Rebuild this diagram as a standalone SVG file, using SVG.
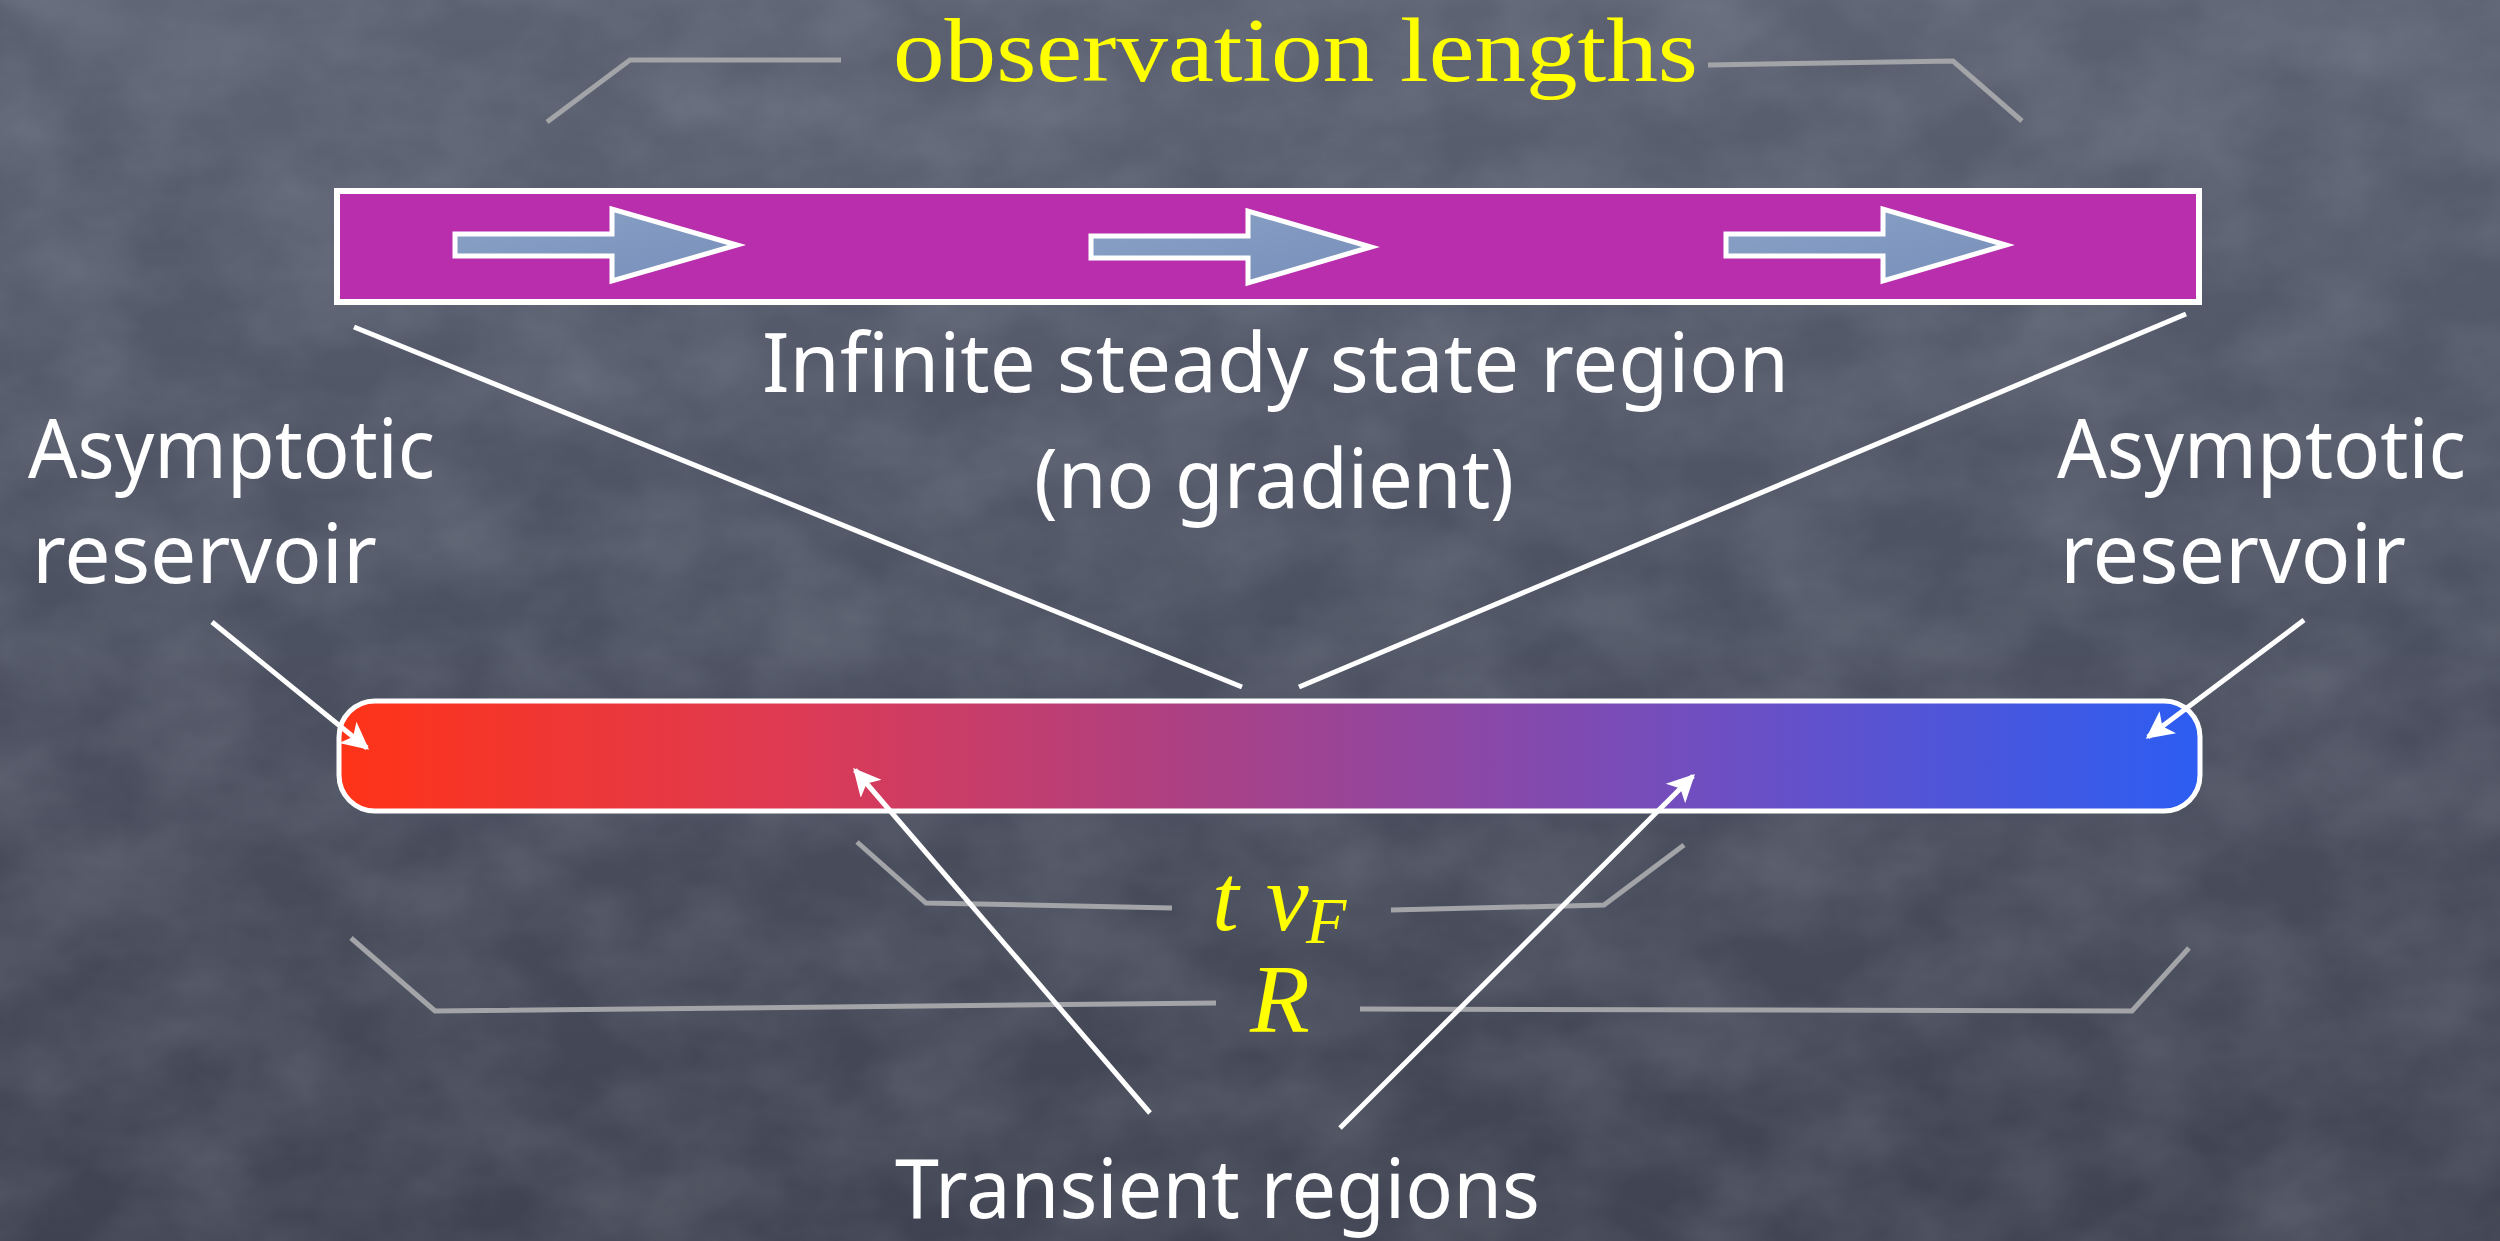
<svg xmlns="http://www.w3.org/2000/svg" width="2500" height="1241" viewBox="0 0 2500 1241">
  <defs>
    <style>
      .label { font-family: "Noto Sans", "DejaVu Sans", sans-serif; fill: #ffffff; }
      .math { font-family: "Liberation Serif", "DejaVu Serif", serif; fill: #ffff00; }
      .bracket { fill: none; stroke: #a3a4a8; stroke-width: 5; stroke-linejoin: miter; }
      .conn { stroke: #ffffff; stroke-width: 5; fill: none; }
      .flow { fill: url(#arrowFill); stroke: #ffffff; stroke-width: 5; }
    </style>
    <linearGradient id="bg" x1="0" y1="0" x2="0" y2="1">
      <stop offset="0" stop-color="#5b6171"/>
      <stop offset="0.5" stop-color="#4c5161"/>
      <stop offset="1" stop-color="#3f4351"/>
    </linearGradient>
    <linearGradient id="bar" x1="339" y1="0" x2="2200" y2="0" gradientUnits="userSpaceOnUse">
      <stop offset="0" stop-color="#ff3317"/>
      <stop offset="0.25" stop-color="#dc3a55"/>
      <stop offset="0.5" stop-color="#a2428e"/>
      <stop offset="0.75" stop-color="#6c4fc4"/>
      <stop offset="1" stop-color="#2c5df2"/>
    </linearGradient>
    <linearGradient id="arrowFill" x1="0" y1="0" x2="1" y2="1">
      <stop offset="0" stop-color="#8aa2c6"/>
      <stop offset="1" stop-color="#7890ba"/>
    </linearGradient>
    <filter id="chalk" x="0" y="0" width="100%" height="100%">
      <feTurbulence type="fractalNoise" baseFrequency="0.008 0.012" numOctaves="4" seed="7"/>
      <feColorMatrix type="matrix" values="0 0 0 0 0.72  0 0 0 0 0.76  0 0 0 0 0.84  0 0 0 0.22 -0.06"/>
    </filter>
    <marker id="head" viewBox="0 0 10 10" refX="9" refY="5" markerWidth="6.5" markerHeight="5.5" markerUnits="strokeWidth" orient="auto">
      <path d="M0,0 L10,5 L0,10 L2.5,5 Z" fill="#ffffff"/>
    </marker>
  </defs>

  <rect x="0" y="0" width="2500" height="1241" fill="url(#bg)"/>
  <rect x="0" y="0" width="2500" height="1241" filter="url(#chalk)"/>

  <g id="brackets">
    <polyline class="bracket" points="547,122 630,60 841,60"/>
    <polyline class="bracket" points="1708,65 1953,61 2022,121"/>
    <polyline class="bracket" points="857,842 926,903 1172,908"/>
    <polyline class="bracket" points="1391,910 1604,905 1684,845"/>
    <polyline class="bracket" points="351,938 435,1011 1216,1003"/>
    <polyline class="bracket" points="1360,1009 2132,1011 2189,948"/>
  </g>

  <g id="observation-lengths">
    <text class="math" x="893" y="81" font-size="90" textLength="805" lengthAdjust="spacingAndGlyphs">observation lengths</text>
  </g>

  <g id="steady-state-bar">
    <rect x="337" y="191" width="1862" height="111" fill="#b92eac" stroke="#ffffff" stroke-width="6"/>
    <path class="flow" transform="translate(455,245)" d="M0,-11 H157 V-36 L282,0 L157,36 V11 H0 Z"/>
    <path class="flow" transform="translate(1091,247)" d="M0,-11 H157 V-36 L280,0 L157,36 V11 H0 Z"/>
    <path class="flow" transform="translate(1726,245)" d="M0,-11 H157 V-36 L280,0 L157,36 V11 H0 Z"/>
  </g>

  <g id="steady-state-label">
    <text class="label" x="762" y="392" font-size="82" textLength="1027" lengthAdjust="spacingAndGlyphs">Infinite steady state region</text>
    <text class="label" x="1034" y="508" font-size="82" textLength="480" lengthAdjust="spacingAndGlyphs">(no gradient)</text>
  </g>

  <g id="reservoir-left-label">
    <text class="label" x="28" y="478" font-size="82" textLength="407" lengthAdjust="spacingAndGlyphs">Asymptotic</text>
    <text class="label" x="32" y="583" font-size="82" textLength="345" lengthAdjust="spacingAndGlyphs">reservoir</text>
  </g>

  <g id="reservoir-right-label">
    <text class="label" x="2057" y="478" font-size="82" textLength="409" lengthAdjust="spacingAndGlyphs">Asymptotic</text>
    <text class="label" x="2060" y="583" font-size="82" textLength="346" lengthAdjust="spacingAndGlyphs">reservoir</text>
  </g>

  <g id="gradient-bar">
    <rect x="339" y="701" width="1861" height="110" rx="36" ry="36" fill="url(#bar)" stroke="#ffffff" stroke-width="5"/>
  </g>

  <g id="lengths-labels">
    <text class="math" font-size="96" font-style="italic"><tspan x="1212" y="930">t</tspan><tspan x="1266" y="930">v</tspan><tspan x="1306" y="943" font-size="66">F</tspan></text>
    <text class="math" x="1250" y="1032" font-size="98" font-style="italic">R</text>
  </g>

  <g id="transient-label">
    <text class="label" x="895" y="1218" font-size="82" textLength="645" lengthAdjust="spacingAndGlyphs">Transient regions</text>
  </g>

  <g id="connectors">
    <line class="conn" x1="354" y1="327" x2="1242" y2="687"/>
    <line class="conn" x1="2186" y1="314" x2="1299" y2="687"/>
    <line class="conn" x1="212" y1="622" x2="367" y2="748" marker-end="url(#head)"/>
    <line class="conn" x1="2304" y1="620" x2="2148" y2="737" marker-end="url(#head)"/>
    <line class="conn" x1="1150" y1="1113" x2="855" y2="770" marker-end="url(#head)"/>
    <line class="conn" x1="1340" y1="1128" x2="1693" y2="776" marker-end="url(#head)"/>
  </g>
</svg>
